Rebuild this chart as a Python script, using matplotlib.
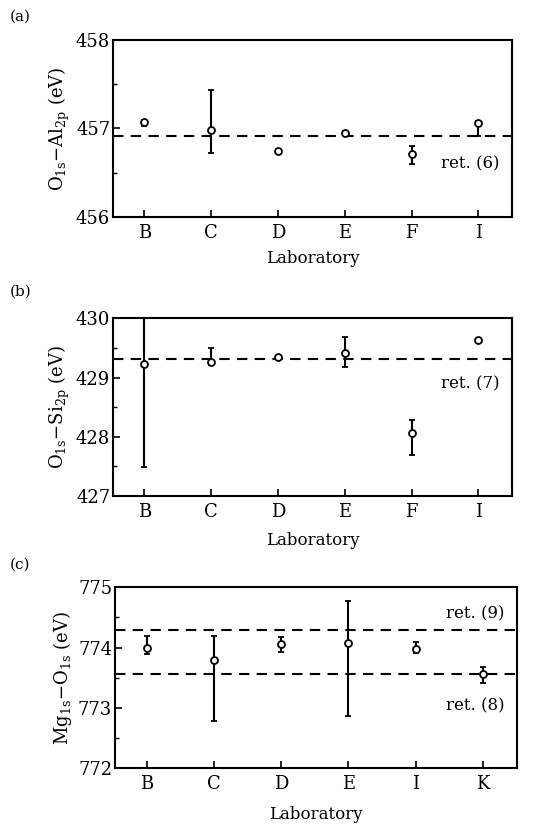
import matplotlib.pyplot as plt
from matplotlib.ticker import MultipleLocator

plt.rcParams["font.family"] = ["DejaVu Serif"]
plt.rcParams["mathtext.fontset"] = "dejavuserif"

# (a) O1s - Al2p
labs_a = ["B", "C", "D", "E", "F", "I"]
val_a = [457.07, 456.98, 456.75, 456.95, 456.71, 457.06]
lo_a = [0.04, 0.26, 0.02, 0.02, 0.11, 0.14]
hi_a = [0.03, 0.45, 0.02, 0.02, 0.09, 0.03]
ref_a = [456.92]
ref_a_text = ["ret. (6)"]

# (b) O1s - Si2p
labs_b = ["B", "C", "D", "E", "F", "I"]
val_b = [429.23, 429.27, 429.34, 429.41, 428.07, 429.63]
lo_b = [1.74, 0.06, 0.02, 0.23, 0.38, 0.02]
hi_b = [1.74, 0.23, 0.02, 0.27, 0.21, 0.02]
ref_b = [429.31]
ref_b_text = ["ret. (7)"]

# (c) Mg1s - O1s
labs_c = ["B", "C", "D", "E", "I", "K"]
val_c = [774.00, 773.79, 774.06, 774.08, 773.97, 773.56]
lo_c = [0.11, 1.00, 0.13, 1.21, 0.06, 0.14]
hi_c = [0.19, 0.40, 0.12, 0.69, 0.12, 0.12]
ref_c = [774.29, 773.57]
ref_c_text = ["ret. (9)", "ret. (8)"]


def panel(fig, rect, labs, vals, lo, hi, refs, ref_texts, text_y, ylim, ylabel, tag, tag_y, xlab_pad):
    ax = fig.add_axes(rect)
    x = list(range(len(labs)))
    ax.errorbar(x, vals, yerr=[lo, hi], fmt="o", mfc="white", mec="black",
                ms=5, mew=1.3, ecolor="black", elinewidth=1.5, capsize=2.5,
                capthick=1.5, color="black", zorder=3)
    for r in refs:
        ax.axhline(r, color="black", lw=1.5, dashes=(5, 3.5), zorder=2)
    for t, ty in zip(ref_texts, text_y):
        ax.text(0.97, ty, t, transform=ax.transAxes, ha="right", va="center", fontsize=12)
    ax.set_xlim(-0.47, len(labs) - 0.5)
    ax.set_ylim(*ylim)
    ax.set_xticks(x)
    ax.set_xticklabels(labs, fontsize=13)
    ax.yaxis.set_major_locator(MultipleLocator(1))
    ax.yaxis.set_minor_locator(MultipleLocator(0.5))
    ax.tick_params(axis="y", which="major", direction="in", length=5, width=1.2, labelsize=13, pad=2)
    ax.tick_params(axis="y", which="minor", direction="in", length=3, width=1)
    ax.tick_params(axis="x", direction="in", length=5, width=1.2, pad=5)
    for s in ax.spines.values():
        s.set_linewidth(1.5)
    ax.set_ylabel(ylabel, fontsize=13, labelpad=3)
    ax.set_xlabel("Laboratory", fontsize=12, labelpad=xlab_pad)
    fig.text(0.018, tag_y, tag, fontsize=11, va="center", ha="left")
    return ax


fig = plt.figure(figsize=(5.39, 8.25), dpi=100)

panel(fig, [0.2096, 0.737, 0.740, 0.2145], labs_a, val_a, lo_a, hi_a, ref_a, ref_a_text,
      [0.30], (456, 458), r"O$_{\mathrm{1s}}$$-$Al$_{\mathrm{2p}}$ (eV)", "(a)", 0.98, 6)
panel(fig, [0.2096, 0.399, 0.740, 0.2151], labs_b, val_b, lo_b, hi_b, ref_b, ref_b_text,
      [0.63], (427, 430), r"O$_{\mathrm{1s}}$$-$Si$_{\mathrm{2p}}$ (eV)", "(b)", 0.646, 8)
panel(fig, [0.2134, 0.0687, 0.745, 0.2194], labs_c, val_c, lo_c, hi_c, ref_c, ref_c_text,
      [0.855, 0.345], (772, 775), r"Mg$_{\mathrm{1s}}$$-$O$_{\mathrm{1s}}$ (eV)", "(c)", 0.315, 9)

fig.savefig("out.png", dpi=100)
